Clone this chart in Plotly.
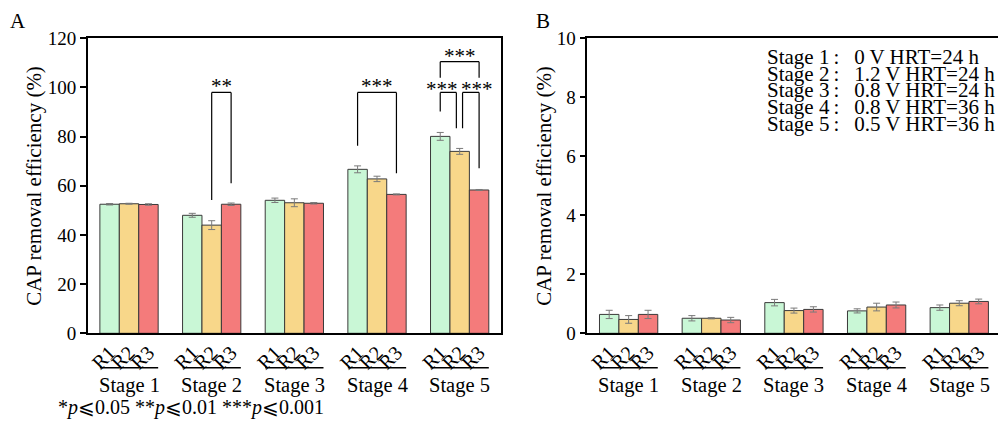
import plotly.graph_objects as go

# ---------------- data ----------------
stages = ["Stage 1", "Stage 2", "Stage 3", "Stage 4", "Stage 5"]
reactors = ["R1", "R2", "R3"]
colors = ["#C9F7D6", "#F8D78A", "#F47B7B"]

a_R1 = [52.5, 48.0, 54.1, 66.7, 80.1]
a_R1_err = [0.3, 0.8, 0.9, 1.4, 1.6]
a_R2 = [52.7, 44.0, 53.1, 62.8, 74.0]
a_R2_err = [0.2, 1.8, 1.6, 1.1, 1.2]
a_R3 = [52.4, 52.5, 52.9, 56.5, 58.3]
a_R3_err = [0.3, 0.5, 0.3, 0.2, 0.2]

b_R1 = [0.64, 0.51, 1.04, 0.76, 0.87]
b_R1_err = [0.14, 0.09, 0.11, 0.07, 0.09]
b_R2 = [0.47, 0.51, 0.77, 0.89, 1.02]
b_R2_err = [0.13, 0.02, 0.085, 0.13, 0.085]
b_R3 = [0.64, 0.45, 0.81, 0.96, 1.08]
b_R3_err = [0.14, 0.09, 0.09, 0.10, 0.08]

conditions = ["0 V HRT=24 h", "1.2 V HRT=24 h", "0.8 V HRT=24 h",
              "0.8 V HRT=36 h", "0.5 V HRT=36 h"]

# significance brackets: (stage, reactor_from, reactor_to, top, left_leg_bottom, right_leg_bottom, label)
sig_brackets = [
    (1, 1, 2, 98.0, 54.2, 61.0, "**"),
    (3, 0, 2, 98.0, 76.3, 65.1, "***"),
    (4, 0, 1, 98.0, 90.2, 83.4, "***"),
    (4, 1, 2, 98.0, 83.4, 67.1, "***"),
    (4, 0, 2, 110.5, 104.0, 104.0, "***"),
]
footnote = "*<i>p</i>⩽0.05 **<i>p</i>⩽0.01 ***<i>p</i>⩽0.001"

# ---------------- figure ----------------
FONT = "Liberation Serif, Times New Roman, serif"
W, H = 998, 422
bargap = 0.295
bw = (1 - bargap) / 3
stage_idx = list(range(len(stages)))

fig = go.Figure()
a_vals = [a_R1, a_R2, a_R3]
a_errs = [a_R1_err, a_R2_err, a_R3_err]
b_vals = [b_R1, b_R2, b_R3]
b_errs = [b_R1_err, b_R2_err, b_R3_err]
for k, (r, c) in enumerate(zip(reactors, colors)):
    for vals, errs, xa, ya in ((a_vals, a_errs, "x", "y"), (b_vals, b_errs, "x2", "y2")):
        fig.add_trace(go.Bar(
            x=stage_idx, y=vals[k], name=r, offsetgroup=r,
            xaxis=xa, yaxis=ya, showlegend=False,
            marker=dict(color=c, line=dict(color="#3a3a3a", width=1)),
            error_y=dict(type="data", array=errs[k], color="#7a7a7a",
                         thickness=1, width=3.5),
        ))

tickvals = [i + (k - 1) * bw for i in stage_idx for k in range(3)]
ticktext = [r for _ in stage_idx for r in reactors]

xA0, xA1 = 87.7, 501.0
xB0 = 587.3
grp_px = (xA1 - xA0) / len(stages)
y_top, y_bot = 38.3, 333.3
ydom = [(H - y_bot) / H, (H - y_top) / H]

xcommon = dict(showline=True, linecolor="black", linewidth=1.5, mirror=True,
               ticks="", tickmode="array", tickvals=tickvals, ticktext=ticktext,
               tickangle=-45, ticklabelstandoff=-2,
               tickfont=dict(family=FONT, size=20, color="black"),
               showgrid=False, zeroline=False, automargin=False)
ycommon = dict(showline=True, linecolor="black", linewidth=1.5,
               ticks="outside", ticklen=6, tickwidth=1.5, tickcolor="black",
               tickfont=dict(family=FONT, size=19, color="black"),
               showgrid=False, zeroline=False, automargin=False)

fig.update_layout(
    width=W, height=H, margin=dict(l=0, r=0, t=0, b=0, autoexpand=False),
    paper_bgcolor="white", plot_bgcolor="white",
    barmode="group", bargap=bargap, bargroupgap=0,
    font=dict(family=FONT, color="black"),
    xaxis=dict(domain=[xA0 / W, xA1 / W], range=[-0.5, len(stages) - 0.5],
               anchor="y", **xcommon),
    yaxis=dict(domain=ydom, range=[0, 120], dtick=20, anchor="x", mirror=True, **ycommon),
    xaxis2=dict(domain=[xB0 / W, 1.0], range=[-0.5, -0.5 + (W - xB0) / grp_px],
                anchor="y2", **xcommon),
    yaxis2=dict(domain=ydom, range=[0, 10], dtick=2, anchor="x2", mirror=False, **ycommon),
)

shapes = []
annotations = []
# group underlines and stage labels
for xa in ("x", "x2"):
    for i, s in enumerate(stages):
        shapes.append(dict(type="line", xref=xa, yref="paper",
                           x0=i - 1.5 * bw, x1=i + 1.5 * bw,
                           y0=(H - 367.7) / H, y1=(H - 367.7) / H,
                           line=dict(color="black", width=1.5)))
        annotations.append(dict(text=s, xref=xa, yref="paper", x=i, y=(H - 385) / H,
                                xanchor="center", yanchor="middle", showarrow=False,
                                font=dict(family=FONT, size=20.5, color="black")))

# significance brackets
text_dx = {2: -0.08, 3: 0.075}
text_dy = {0: 6, 1: 6, 2: 3, 3: 3, 4: 6}
for n, (i, k0, k1, top, lb, rb, lab) in enumerate(sig_brackets):
    xl = i + (k0 - 1) * bw
    xr = i + (k1 - 1) * bw
    if n == 2:
        xr -= 0.04
    if n == 3:
        xl += 0.035
    for (x0, y0, x1, y1) in ((xl, lb, xl, top), (xl, top, xr, top), (xr, top, xr, rb)):
        shapes.append(dict(type="line", xref="x", yref="y", x0=x0, y0=y0, x1=x1, y1=y1,
                           line=dict(color="black", width=1.2)))
    annotations.append(dict(text=lab, xref="x", yref="y", x=(xl + xr) / 2 + text_dx.get(n, 0),
                            y=top, yshift=text_dy[n], xanchor="center", yanchor="middle",
                            showarrow=False, font=dict(family=FONT, size=21, color="black")))

# y-axis titles
for xp in (34, 544):
    annotations.append(dict(text="CAP removal efficiency (%)", xref="paper", yref="paper",
                            x=xp / W, y=(H - (y_top + y_bot) / 2) / H, textangle=-90,
                            xanchor="center", yanchor="middle", showarrow=False,
                            font=dict(family=FONT, size=21, color="black")))
# panel letters
for lab, xp in (("A", 17.5), ("B", 542.7)):
    annotations.append(dict(text=lab, xref="paper", yref="paper", x=xp / W, y=(H - 21) / H,
                            xanchor="center", yanchor="middle", showarrow=False,
                            font=dict(family=FONT, size=21, color="black")))
# condition list in panel B
line_y = [57, 73.7, 90.3, 107, 123.7]
for s, cnd, yp in zip(stages, conditions, line_y):
    annotations.append(dict(text=s + "\u2009:\u2002\u2009" + cnd, xref="paper", yref="paper",
                            x=765 / W, y=(H - yp) / H, xanchor="left", yanchor="middle",
                            showarrow=False,
                            font=dict(family=FONT, size=21, color="black")))
# footnote
annotations.append(dict(text=footnote, xref="paper", yref="paper", x=56 / W, y=(H - 407) / H,
                        xanchor="left", yanchor="middle", showarrow=False,
                        font=dict(family=FONT, size=20, color="black")))

fig.update_layout(shapes=shapes, annotations=annotations)
fig.write_html("out.html", config={"displayModeBar": False},
               post_script="document.body.style.margin='0';document.body.style.overflow='hidden';")
